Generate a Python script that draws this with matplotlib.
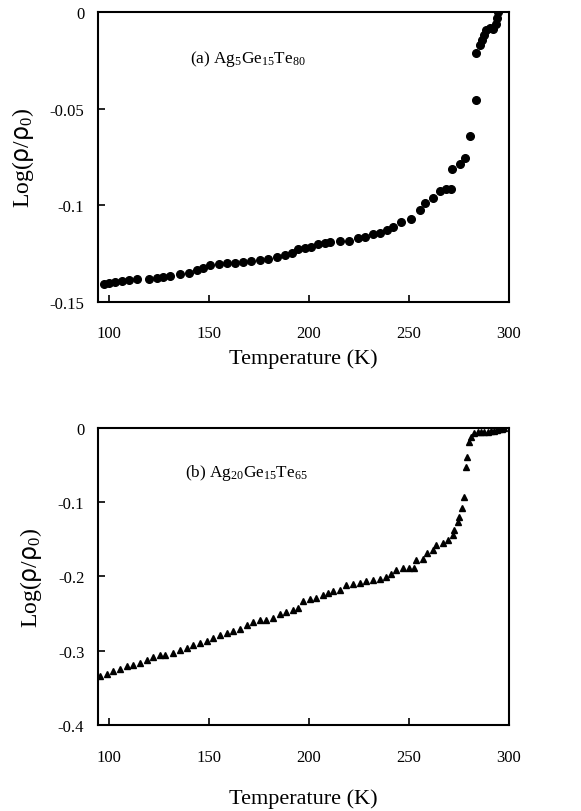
import numpy as np
import matplotlib.pyplot as plt

plt.rcParams['font.family'] = ['Liberation Serif', 'DejaVu Serif']
plt.rcParams['mathtext.fontset'] = 'custom'
plt.rcParams['mathtext.rm'] = 'Liberation Serif'
plt.rcParams['mathtext.it'] = 'Liberation Serif'
plt.rcParams['mathtext.sf'] = 'DejaVu Sans'

# --- data ---
# (a) Ag5Ge15Te80, circles
temp_a = [97.3, 99.8, 103, 106.5, 110, 114, 120, 124, 127, 130.6, 135.6, 139.8,
          144, 147, 150.6, 154.7, 159, 163, 167, 171, 175.5, 179.7, 184, 188,
          191.4, 194.7, 198, 201, 204.6, 208, 210.5, 215.5, 220, 224.6, 228,
          232, 235.4, 238.8, 242, 246, 251, 255.4, 258, 262, 265.4, 268.7, 271,
          271.7, 275.4, 277.9, 280.7, 283.4, 283.7, 285.4, 286.5, 287.5, 288.7,
          290.4, 292, 293.3, 294.2, 294.5]
logr_a = [-0.1405, -0.140, -0.1397, -0.139, -0.1388, -0.1384, -0.138, -0.1376,
          -0.137, -0.1365, -0.1358, -0.1348, -0.1336, -0.1324, -0.131, -0.1305,
          -0.130, -0.1298, -0.1295, -0.129, -0.1284, -0.1276, -0.1267, -0.1259,
          -0.1245, -0.1224, -0.1219, -0.1214, -0.1203, -0.1196, -0.1191, -0.1186,
          -0.1183, -0.1172, -0.1164, -0.115, -0.1143, -0.1126, -0.1114, -0.1086,
          -0.1069, -0.1026, -0.099, -0.096, -0.0928, -0.0917, -0.0914, -0.081,
          -0.0784, -0.0755, -0.0643, -0.0453, -0.021, -0.0172, -0.0147, -0.0121,
          -0.0095, -0.0083, -0.0086, -0.006, -0.003, 0.0]

# (b) Ag20Ge15Te65, triangles
temp_b = [95.5, 98.8, 102, 105.5, 108.8, 112, 115.5, 118.8, 122, 125.5, 128,
          132, 135.4, 138.8, 142, 145.4, 148.8, 152, 155.4, 158.7, 162, 165.4,
          168.7, 172, 175.4, 178.7, 182, 185.4, 188.7, 192, 194.5, 197, 200.3,
          203.7, 207, 209.5, 212, 215.3, 218.6, 222, 225.3, 228.6, 232, 235.3,
          238.6, 241, 243.6, 247, 250, 252.7, 253.6, 257, 259, 262, 263.6, 267,
          269.4, 272, 272.7, 274.4, 275.2, 276.4, 277.7, 278.5, 279.2, 280.2,
          281, 282.7, 284.5, 286, 287.7, 289.4, 291, 292.7, 294, 295.2, 296.5,
          297.7]
logr_b = [-0.3335, -0.331, -0.328, -0.3245, -0.321, -0.320, -0.3164, -0.312,
          -0.309, -0.3065, -0.3056, -0.303, -0.2998, -0.296, -0.293, -0.290,
          -0.287, -0.283, -0.2795, -0.2764, -0.274, -0.2705, -0.266, -0.262,
          -0.2593, -0.2584, -0.2557, -0.2512, -0.2476, -0.245, -0.2427, -0.2337,
          -0.231, -0.2287, -0.2256, -0.2225, -0.2202, -0.2189, -0.2121, -0.2099,
          -0.2085, -0.2067, -0.2054, -0.204, -0.2009, -0.1973, -0.1919, -0.1888,
          -0.1883, -0.1888, -0.1784, -0.1762, -0.168, -0.165, -0.1573, -0.1546,
          -0.1514, -0.1447, -0.138, -0.1267, -0.12, -0.1074, -0.093, -0.0526,
          -0.039, -0.0189, -0.0121, -0.0076, -0.0062, -0.0054, -0.0055, -0.0054,
          -0.005, -0.0045, -0.0035, -0.0022, -0.0012, 0.0]

x_ticks = [100, 150, 200, 250, 300]
yticks_a = [0, -0.05, -0.1, -0.15]
ytick_labels_a = ['0', '-0.05', '-0.1', '-0.15']
yticks_b = [0, -0.1, -0.2, -0.3, -0.4]
ytick_labels_b = ['0', '-0.1', '-0.2', '-0.3', '-0.4']

fig = plt.figure(figsize=(5.81, 8.12), dpi=100)
ax1 = fig.add_axes([0.169, 0.627, 0.707, 0.357])
ax2 = fig.add_axes([0.169, 0.106, 0.707, 0.366])


def style_axes(ax, yticks, ylabels, xlabelpad):
    ax.set_xlim(94.5, 300)
    ax.set_xticks(x_ticks)
    ax.set_yticks(yticks)
    ax.set_yticklabels(ylabels)
    ax.tick_params(direction='in', length=5, width=1.2, labelsize=12,
                   top=False, right=False)
    ax.tick_params(axis='x', pad=17)
    ax.tick_params(axis='y', pad=10)
    for s in ax.spines.values():
        s.set_linewidth(1.5)
    ax.set_xlabel('Temperature (K)', fontsize=16, labelpad=xlabelpad)
    ax.set_ylabel(r'Log($\mathsf{\rho}$/$\mathsf{\rho}_0$)', fontsize=17,
                  labelpad=10)


ax1.plot(temp_a, logr_a, 'o', color='black', markersize=5.5)
ax1.set_ylim(-0.15, 0)
style_axes(ax1, yticks_a, ytick_labels_a, 5)
ax1.text(140.5, -0.024, r'(a) Ag$_5$Ge$_{15}$Te$_{80}$', fontsize=12.4, va='center')

ax2.plot(temp_b, logr_b, '^', color='black', markersize=4.5)
ax2.set_ylim(-0.4, 0)
style_axes(ax2, yticks_b, ytick_labels_b, 17)
ax2.text(138, -0.059, r'(b) Ag$_{20}$Ge$_{15}$Te$_{65}$', fontsize=12.4, va='center')

fig.savefig('out.png', dpi=100)
